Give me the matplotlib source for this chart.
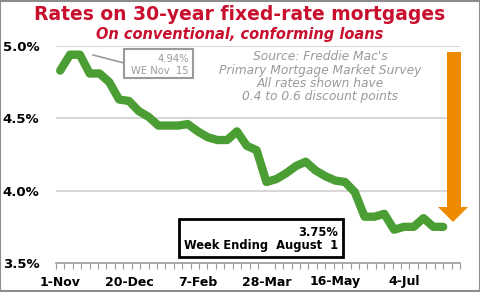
import numpy as np
import pandas as pd
import matplotlib
matplotlib.use("Agg")
import matplotlib.pyplot as plt
from matplotlib.patches import Polygon, Rectangle
from matplotlib.lines import Line2D

# Freddie Mac PMMS, 30-year fixed, weekly
week_ending = pd.date_range("2018-11-01", "2019-08-01", freq="7D")
rates = [4.83, 4.94, 4.94, 4.81, 4.81, 4.75, 4.63, 4.62, 4.55, 4.51,
         4.45, 4.45, 4.45, 4.46, 4.41, 4.37, 4.35, 4.35, 4.41, 4.31,
         4.28, 4.06, 4.08, 4.12, 4.17, 4.20, 4.14, 4.10, 4.07, 4.06,
         3.99, 3.82, 3.82, 3.84, 3.73, 3.75, 3.75, 3.81, 3.75, 3.75]
tick_labels = ["1-Nov", "20-Dec", "7-Feb", "28-Mar", "16-May", "4-Jul"]
y_ticks = [3.5, 4.0, 4.5, 5.0]

W, H = 481, 292
red = "#C8102E"
green = "#4A9E33"
orange = "#EE8A00"
grey = "#9A9A9A"

days = (week_ending - week_ending[0]).days.values
label_days = np.arange(len(tick_labels)) * 49

fig = plt.figure(figsize=(W / 100, H / 100), dpi=100)

def px(x, y):
    # pixel coords (from top-left) -> figure fraction
    return x / W, 1 - y / H

ax = fig.add_axes([56 / W, 1 - 263 / H, (460 - 56) / W, (263 - 46) / H])
ax.set_xlim(-3, 285)
ax.set_ylim(3.5, 5.0)

ax.plot(days, rates, color=green, lw=6, solid_capstyle="round",
        solid_joinstyle="round", clip_on=False, zorder=3)

# gridlines
for v in y_ticks[1:]:
    ax.axhline(v, color="#D0D0D0", lw=1.2, zorder=1)
ax.set_yticks(y_ticks)
ax.set_yticklabels(["%.1f%%" % v for v in y_ticks], fontsize=9.5, fontweight="bold")
ax.tick_params(axis="y", length=0, pad=12)

ax.set_xticks(np.arange(-3, 286, 6), minor=True)
ax.set_xticks(label_days)
ax.set_xticklabels(tick_labels, fontsize=9, fontweight="bold")
ax.tick_params(axis="x", which="major", length=0, pad=9)
ax.tick_params(axis="x", which="minor", length=4, color=grey, width=0.8)

for s in ["top", "right", "left"]:
    ax.spines[s].set_visible(False)
ax.spines["bottom"].set_color(grey)
ax.spines["bottom"].set_linewidth(1.2)

# title
fig.text(*px(240, 15), "Rates on 30-year fixed-rate mortgages", color=red,
         fontsize=13.5, fontweight="bold", ha="center", va="center")
fig.text(*px(240, 35), "On conventional, conforming loans", color=red,
         fontsize=10.5, fontweight="bold", style="italic", ha="center", va="center")

# source note
src = ["Source: Freddie Mac's", "Primary Mortgage Market Survey",
       "All rates shown have", "0.4 to 0.6 discount points"]
for i, s in enumerate(src):
    fig.text(*px(320, 57 + i * 13.3), s, color=grey, fontsize=8.8,
             style="italic", ha="center", va="center")

# peak callout
fig.patches.append(Rectangle(px(124, 78), 69 / W, 29 / H, transform=fig.transFigure,
                             fill=False, edgecolor=grey, lw=1.5))
fig.lines.append(Line2D([93 / W, 124 / W], [1 - 55 / H, 1 - 63 / H],
                        transform=fig.transFigure, color=grey, lw=1.2))
fig.text(*px(189, 59), "4.94%", color=grey, fontsize=7.2, ha="right", va="center")
fig.text(*px(189, 71), "WE Nov  15", color=grey, fontsize=7.2, ha="right", va="center")

# latest callout
fig.patches.append(Rectangle(px(179, 257), 164 / W, 38 / H, transform=fig.transFigure,
                             fill=False, edgecolor="black", lw=2))
fig.text(*px(338, 232), "3.75%", color="black", fontsize=8.3, fontweight="bold",
         ha="right", va="center")
fig.text(*px(338, 246), "Week Ending  August  1", color="black", fontsize=8.3,
         fontweight="bold", ha="right", va="center")

# down arrow
arrow = [px(447, 52), px(461, 52), px(461, 207), px(468, 207), px(453, 222),
         px(438, 207), px(447, 207)]
fig.patches.append(Polygon(arrow, closed=True, transform=fig.transFigure,
                           facecolor=orange, edgecolor="none"))

# outer frame
fig.patches.append(Rectangle((0.001, 0.002), 0.997, 0.995, transform=fig.transFigure,
                             fill=False, edgecolor="#8C8C8C", lw=1.5))

fig.savefig("out.png", dpi=100)
